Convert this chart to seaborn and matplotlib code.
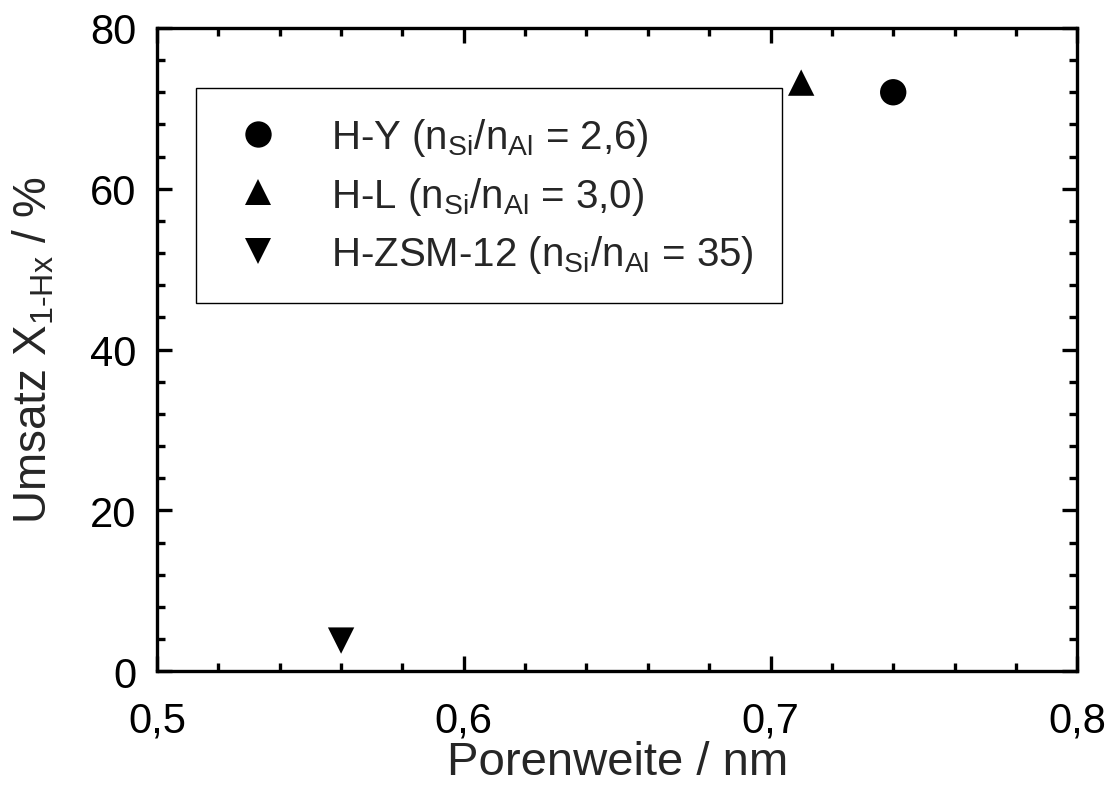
import matplotlib
matplotlib.use("Agg")
import matplotlib.pyplot as plt
from matplotlib.ticker import MultipleLocator, FuncFormatter
import seaborn as sns
import pandas as pd

# Pore width (nm) and conversion (%) for the three zeolites
catalysts = ["H-Y", "H-L", "H-ZSM-12"]
labels = [
    r"H-Y (n$_\mathregular{Si}$/n$_\mathregular{Al}$ = 2,6)",
    r"H-L (n$_\mathregular{Si}$/n$_\mathregular{Al}$ = 3,0)",
    r"H-ZSM-12 (n$_\mathregular{Si}$/n$_\mathregular{Al}$ = 35)",
]
pore_width = [0.74, 0.71, 0.56]
conversion = [72.0, 73.2, 3.8]

df = pd.DataFrame({"Katalysator": labels, "Porenweite": pore_width, "Umsatz": conversion})

sns.set_theme(style="ticks")
plt.rcParams["font.family"] = ["Liberation Sans", "DejaVu Sans"]
plt.rcParams["mathtext.fontset"] = "custom"
plt.rcParams["mathtext.rm"] = "Liberation Sans"
plt.rcParams["mathtext.it"] = "Liberation Sans"

fig = plt.figure(figsize=(11.06, 8.04), dpi=100)
ax = fig.add_axes([0.142, 0.164, 0.832, 0.800])

markers = {labels[0]: "o", labels[1]: "^", labels[2]: "v"}
sns.scatterplot(data=df, x="Porenweite", y="Umsatz", style="Katalysator",
                markers=markers, color="black", s=360, edgecolor="none",
                style_order=labels, ax=ax, legend=True)

ax.set_xlim(0.5, 0.8)
ax.set_ylim(0, 80)
ax.xaxis.set_major_locator(MultipleLocator(0.1))
ax.xaxis.set_minor_locator(MultipleLocator(0.02))
ax.yaxis.set_major_locator(MultipleLocator(20))
ax.yaxis.set_minor_locator(MultipleLocator(4))
ax.xaxis.set_major_formatter(FuncFormatter(lambda v, p: f"{v:.1f}".replace(".", ",")))
ax.yaxis.set_major_formatter(FuncFormatter(lambda v, p: f"{v:.0f}"))

for s in ax.spines.values():
    s.set_linewidth(2.4)
    s.set_color("black")
ax.tick_params(which="both", direction="in", top=True, right=True, color="black",
               labelsize=30, labelcolor="black")
ax.tick_params(which="major", length=11, width=2.4)
ax.tick_params(which="minor", length=6, width=2.4)
ax.tick_params(axis="x", which="major", pad=21)
ax.tick_params(axis="y", which="major", pad=15)

ax.set_xlabel("Porenweite / nm", fontsize=34, labelpad=0)
ax.set_ylabel(r"Umsatz X$_\mathregular{1\text{-}Hx}$ / %", fontsize=33, labelpad=24)

handles, _ = ax.get_legend_handles_labels()
leg = ax.legend(handles, labels, loc="upper left", bbox_to_anchor=(0.177, 0.889),
                bbox_transform=fig.transFigure, fontsize=29, frameon=True,
                fancybox=False, edgecolor="black", framealpha=1, borderpad=0.7,
                handlelength=1.7, handletextpad=0.95, labelspacing=0.4,
                markerscale=1.0, borderaxespad=0)
leg.get_frame().set_linewidth(1.0)

fig.savefig("out.png", dpi=100)
